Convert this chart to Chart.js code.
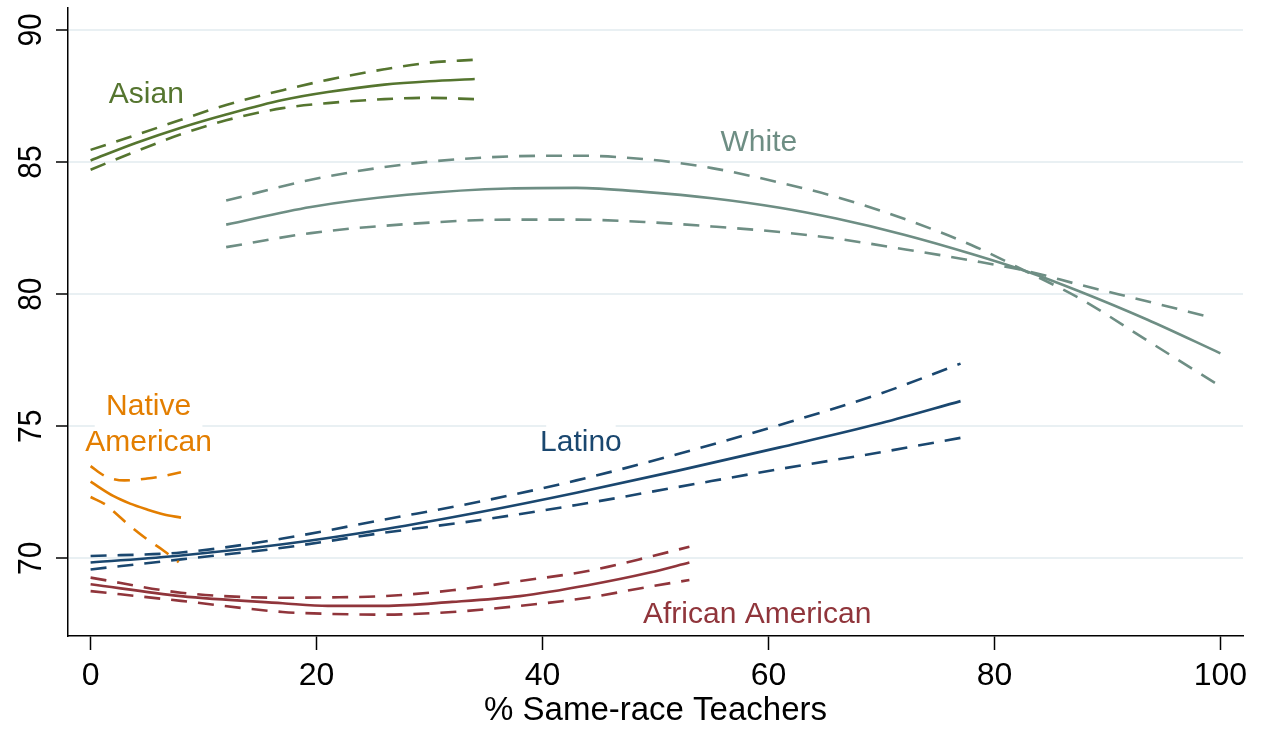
<!DOCTYPE html>
<html><head><meta charset="utf-8">
<script src="https://cdn.jsdelivr.net/npm/chart.js@4"></script>
<style>html,body{margin:0;padding:0;background:#fff}canvas{display:block}</style>
</head><body>
<canvas id="c" width="1264" height="731"></canvas>
<script>
// ---- tick labels ----
const xTicks = [0, 20, 40, 60, 80, 100];
const yTicks = [70, 75, 80, 85, 90];

// ---- Asian ----
const asianX   = [0, 4, 8, 12, 17, 21, 26, 30, 34];
const asianFit = [85.06, 85.72, 86.30, 86.80, 87.35, 87.65, 87.93, 88.06, 88.14];
const asianHi  = [85.46, 86.02, 86.60, 87.16, 87.72, 88.11, 88.51, 88.76, 88.87];
const asianLo  = [84.71, 85.40, 86.05, 86.58, 87.04, 87.23, 87.38, 87.43, 87.38];

// ---- White ----
const whiteX   = [12, 19.5, 28, 37, 43, 49, 55, 61, 66, 72, 78, 83, 87.5, 93.5, 100];
const whiteFit = [82.63, 83.30, 83.76, 84.00, 84.02, 83.87, 83.63, 83.27, 82.86, 82.25, 81.52, 80.84, 80.11, 79.04, 77.76];
const whiteHiX = [12, 19.5, 28, 37, 43, 49, 55, 61, 66, 72, 78, 83, 87.5, 93.5, 100];
const whiteHi  = [83.54, 84.33, 84.92, 85.21, 85.24, 85.11, 84.77, 84.22, 83.68, 82.85, 81.85, 80.82, 79.85, 78.25, 76.51];
const whiteLoX = [12, 19.5, 28, 37, 43, 49, 55, 61, 66, 72, 78, 83, 87.5, 93.5, 99];
const whiteLo  = [81.78, 82.31, 82.65, 82.82, 82.82, 82.73, 82.56, 82.35, 82.10, 81.70, 81.27, 80.86, 80.36, 79.73, 79.14];

// ---- Native American ----
const nativeX    = [0, 2, 3.5, 5, 6.5, 8];
const nativeFit  = [72.90, 72.36, 72.07, 71.85, 71.66, 71.54];
const nativeHiX  = [0, 1.3, 3, 5, 6.5, 8];
const nativeHi   = [73.49, 73.11, 72.95, 73.02, 73.12, 73.26];
const nativeLoX  = [0, 1.3, 2, 3.5, 5, 6.5, 7.8];
const nativeLo   = [72.32, 72.04, 71.79, 71.22, 70.72, 70.28, 69.85];

// ---- Latino ----
const latinoX   = [0, 8, 17, 26, 34.5, 43, 52, 61, 70, 77];
const latinoFit = [69.84, 70.11, 70.53, 71.10, 71.75, 72.48, 73.32, 74.20, 75.12, 75.95];
const latinoHi  = [70.09, 70.22, 70.75, 71.47, 72.15, 72.95, 73.95, 75.05, 76.25, 77.37];
const latinoLo  = [69.58, 69.96, 70.40, 70.97, 71.45, 72.02, 72.70, 73.38, 74.02, 74.56];

// ---- African American ----
const africanX   = [0, 8, 17, 21, 26, 32, 38, 44, 49.5, 53];
const africanFit = [69.02, 68.57, 68.30, 68.20, 68.20, 68.35, 68.57, 68.98, 69.46, 69.84];
const africanHi  = [69.27, 68.70, 68.51, 68.52, 68.57, 68.79, 69.14, 69.52, 70.06, 70.44];
const africanLo  = [68.76, 68.39, 67.97, 67.90, 67.87, 67.97, 68.20, 68.51, 68.93, 69.18];

// ---- group labels (text, anchor in data units) ----
const labelLines  = [['Asian'], ['White'], ['Native', 'American'], ['Latino'], ['African American']];
const labelAnchorX = [4.93, 59.15, 5.13, 43.4, 59.0];
const labelAnchorY = [87.24, 85.40, 75.41, 74.06, 67.57];

const COLORS = {
  asian: '#55752f', white: '#6e8e84', native: '#e37e00', latino: '#1a476f', african: '#90353b'
};
const labelColors = [COLORS.asian, COLORS.white, COLORS.native, COLORS.latino, COLORS.african];

const FONT = '"Liberation Sans", Arial, Helvetica, sans-serif';
const pts = (xs, ys) => xs.map((x, i) => ({ x: x, y: ys[i] }));
const DASH = [16, 11];
function line(xs, ys, color, dashed) {
  return {
    data: pts(xs, ys), borderColor: color, borderWidth: 2.6,
    borderDash: dashed ? DASH : [], pointRadius: 0,
    cubicInterpolationMode: 'monotone', fill: false
  };
}

const datasets = [
  line(asianX, asianHi, COLORS.asian, true),
  line(asianX, asianLo, COLORS.asian, true),
  line(asianX, asianFit, COLORS.asian, false),
  line(whiteHiX, whiteHi, COLORS.white, true),
  line(whiteLoX, whiteLo, COLORS.white, true),
  line(whiteX, whiteFit, COLORS.white, false),
  line(nativeHiX, nativeHi, COLORS.native, true),
  line(nativeLoX, nativeLo, COLORS.native, true),
  line(nativeX, nativeFit, COLORS.native, false),
  line(latinoX, latinoHi, COLORS.latino, true),
  line(latinoX, latinoLo, COLORS.latino, true),
  line(latinoX, latinoFit, COLORS.latino, false),
  line(africanX, africanHi, COLORS.african, true),
  line(africanX, africanLo, COLORS.african, true),
  line(africanX, africanFit, COLORS.african, false)
];

const LABEL_PX = 30, LABEL_LH = 35.7;
const groupLabels = {
  id: 'groupLabels',
  beforeDatasetsDraw(chart) {
    const ctx = chart.ctx, xs = chart.scales.x, ys = chart.scales.y;
    ctx.save();
    ctx.font = LABEL_PX + 'px ' + FONT;
    ctx.fillStyle = '#ffffff';
    labelLines.forEach((lines, i) => {
      const cx = xs.getPixelForValue(labelAnchorX[i]);
      const by = ys.getPixelForValue(labelAnchorY[i]);
      const w = Math.max(...lines.map(l => ctx.measureText(l).width)) * 0.85;
      const top = by - LABEL_PX;
      const bottom = by + (lines.length - 1) * LABEL_LH + 6;
      ctx.fillRect(cx - w / 2, top, w, bottom - top);
    });
    ctx.restore();
  },
  afterDatasetsDraw(chart) {
    const ctx = chart.ctx, xs = chart.scales.x, ys = chart.scales.y;
    ctx.save();
    ctx.font = LABEL_PX + 'px ' + FONT;
    ctx.textAlign = 'center';
    ctx.textBaseline = 'alphabetic';
    labelLines.forEach((lines, i) => {
      const cx = xs.getPixelForValue(labelAnchorX[i]);
      const by = ys.getPixelForValue(labelAnchorY[i]);
      ctx.fillStyle = labelColors[i];
      lines.forEach((l, j) => ctx.fillText(l, cx, by + j * LABEL_LH));
    });
    ctx.restore();
  }
};

const yLabels = {
  id: 'yLabels',
  afterDraw(chart) {
    const s = chart.scales.y, ctx = chart.ctx;
    ctx.save();
    ctx.fillStyle = '#000';
    ctx.font = '30px ' + FONT;
    ctx.textAlign = 'center';
    ctx.textBaseline = 'alphabetic';
    s.ticks.forEach(t => {
      const py = s.getPixelForValue(t.value);
      ctx.save();
      ctx.translate(s.right - 27, py);
      ctx.rotate(-Math.PI / 2);
      ctx.scale(1, 1.12);
      ctx.fillText(String(t.value), 0, 0);
      ctx.restore();
    });
    ctx.restore();
  }
};

Chart.defaults.font.family = FONT;
new Chart(document.getElementById('c'), {
  type: 'line',
  data: { datasets },
  plugins: [groupLabels, yLabels],
  options: {
    responsive: false, animation: false, devicePixelRatio: 1,
    layout: { padding: { left: 0, right: 21, top: 8, bottom: 0 } },
    plugins: { legend: { display: false }, tooltip: { enabled: false } },
    scales: {
      x: {
        type: 'linear', min: -2, max: 102,
        afterBuildTicks: s => { s.ticks = xTicks.map(v => ({ value: v })); },
        afterFit: s => { s.height = 95; },
        ticks: { font: { size: 32 }, color: '#000', padding: 7, maxRotation: 0 },
        grid: { drawOnChartArea: false, drawTicks: true, tickLength: 14, tickColor: '#000', tickWidth: 1.5 },
        border: { display: true, color: '#000', width: 1.5 },
        title: { display: true, text: '% Same-race Teachers', color: '#000', font: { size: 33 }, padding: { top: 0, bottom: 0 } }
      },
      y: {
        type: 'linear', min: 67.06, max: 90.83,
        afterBuildTicks: s => { s.ticks = yTicks.map(v => ({ value: v })); },
        afterFit: s => { s.width = 68; },
        ticks: { display: false },
        grid: { color: '#e9f0f3', lineWidth: 2, drawTicks: true, tickLength: 12, tickColor: '#000', tickWidth: 1.5 },
        border: { display: true, color: '#000', width: 1.5 }
      }
    }
  }
});
</script>
</body></html>
